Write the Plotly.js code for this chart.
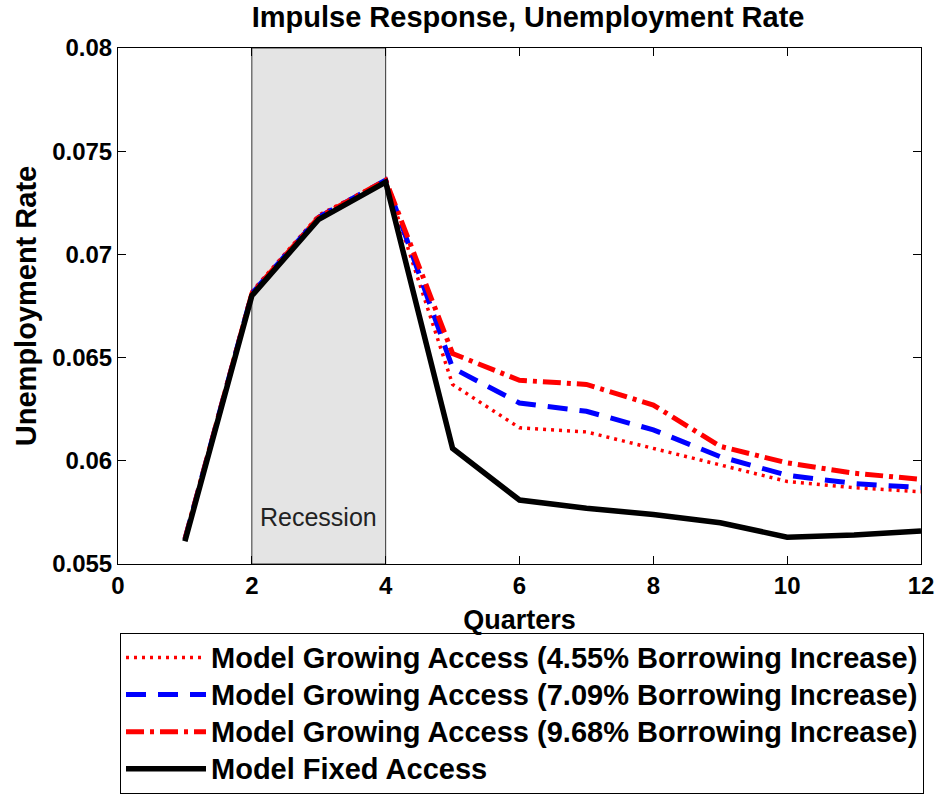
<!DOCTYPE html>
<html>
<head>
<meta charset="utf-8">
<script src="https://cdn.plot.ly/plotly-3.0.1.min.js"></script>
<style>body{margin:0;padding:0;background:#fff}#chart{width:938px;height:794px}</style>
</head>
<body>
<div id="chart"></div>
<script>
const quarters = [1, 2, 3, 4, 5, 6, 7, 8, 9, 10, 11, 12];
const growing455 = [0.0562, 0.0682, 0.0719, 0.0736, 0.0637, 0.0616, 0.0614, 0.0606, 0.0598, 0.0590, 0.0587, 0.0585];
const growing709 = [0.0562, 0.0681, 0.0718, 0.0736, 0.0645, 0.0628, 0.0624, 0.0615, 0.0602, 0.0593, 0.0589, 0.0587];
const growing968 = [0.0562, 0.0681, 0.0718, 0.0736, 0.0652, 0.0639, 0.0637, 0.0627, 0.0607, 0.0599, 0.0594, 0.0591];
const fixedAccess = [0.0561, 0.0680, 0.0717, 0.0735, 0.0606, 0.0581, 0.0577, 0.0574, 0.0570, 0.0563, 0.0564, 0.0566];
const seriesNames = [
  'Model Growing Access (4.55% Borrowing Increase)',
  'Model Growing Access (7.09% Borrowing Increase)',
  'Model Growing Access (9.68% Borrowing Increase)',
  'Model Fixed Access'
];
const recession = [2, 4];
const recessionLabel = 'Recession';
const xTicks = [0, 2, 4, 6, 8, 10, 12];
const yTicks = [0.055, 0.06, 0.065, 0.07, 0.075, 0.08];
const yTickText = ['0.055', '0.06', '0.065', '0.07', '0.075', '0.08'];

const FONT = 'Arial, "Liberation Sans", Helvetica, sans-serif';
const legendName = s => '<span style="font-size:29px">' + s + '</span>';

const traces = [
  {x: quarters, y: growing455, name: legendName(seriesNames[0]), mode: 'lines',
   line: {color: '#ff0000', width: 3.5, dash: '3px,5px'}},
  {x: quarters, y: growing709, name: legendName(seriesNames[1]), mode: 'lines',
   line: {color: '#0000ff', width: 5, dash: '20px,12px'}},
  {x: quarters, y: growing968, name: legendName(seriesNames[2]), mode: 'lines',
   line: {color: '#ff0000', width: 5, dash: '18px,6px,4px,6px'}},
  {x: quarters, y: fixedAccess, name: legendName(seriesNames[3]), mode: 'lines',
   line: {color: '#000000', width: 5.5}}
];

const layout = {
  width: 938, height: 794,
  paper_bgcolor: '#ffffff', plot_bgcolor: '#ffffff',
  margin: {l: 118, r: 17, t: 48, b: 230, autoexpand: false},
  font: {family: FONT, color: '#000'},
  showlegend: true,
  title: {text: '<b>Impulse Response, Unemployment Rate</b>', font: {family: FONT, size: 29, color: '#000'},
          xref: 'container', yref: 'container', x: 0.563, xanchor: 'center', y: 0.979, yanchor: 'middle'},
  xaxis: {
    range: [0, 12], tickvals: xTicks, ticktext: xTicks.map(String),
    ticks: 'inside', ticklen: 8, tickcolor: '#000', tickwidth: 1,
    showline: true, linecolor: '#000', linewidth: 1, mirror: 'ticks',
    showgrid: false, zeroline: false,
    tickfont: {family: FONT, size: 24, color: '#000', weight: 'bold'},
    title: {text: '<b>Quarters</b>', font: {family: FONT, size: 27, color: '#000'}, standoff: 12}
  },
  yaxis: {
    range: [0.055, 0.08], tickvals: yTicks, ticktext: yTickText,
    ticks: 'inside', ticklen: 8, tickcolor: '#000', tickwidth: 1,
    showline: true, linecolor: '#000', linewidth: 1, mirror: 'ticks',
    showgrid: false, zeroline: false,
    tickfont: {family: FONT, size: 24, color: '#000', weight: 'bold'},
    title: {text: '<b>Unemployment Rate</b>', font: {family: FONT, size: 29, color: '#000'}, standoff: 6}
  },
  shapes: [
    {type: 'rect', xref: 'x', yref: 'paper', x0: recession[0], x1: recession[1], y0: 0, y1: 1,
     fillcolor: '#e4e4e4', line: {color: '#333', width: 1}, layer: 'below'}
  ],
  annotations: [
    {x: (recession[0] + recession[1]) / 2, y: 0.0573, xref: 'x', yref: 'y', text: recessionLabel,
     showarrow: false, font: {family: FONT, size: 25, color: '#222'}}
  ],
  legend: {
    x: 0.0025, y: -0.1337, xanchor: 'left', yanchor: 'top',
    bordercolor: '#000', borderwidth: 1, bgcolor: '#fff',
    font: {family: FONT, size: 26.2, color: '#000', weight: 'bold'},
    itemwidth: 80, tracegroupgap: 0
  }
};

Plotly.newPlot('chart', traces, layout, {displayModeBar: false, staticPlot: true});
</script>
</body>
</html>
